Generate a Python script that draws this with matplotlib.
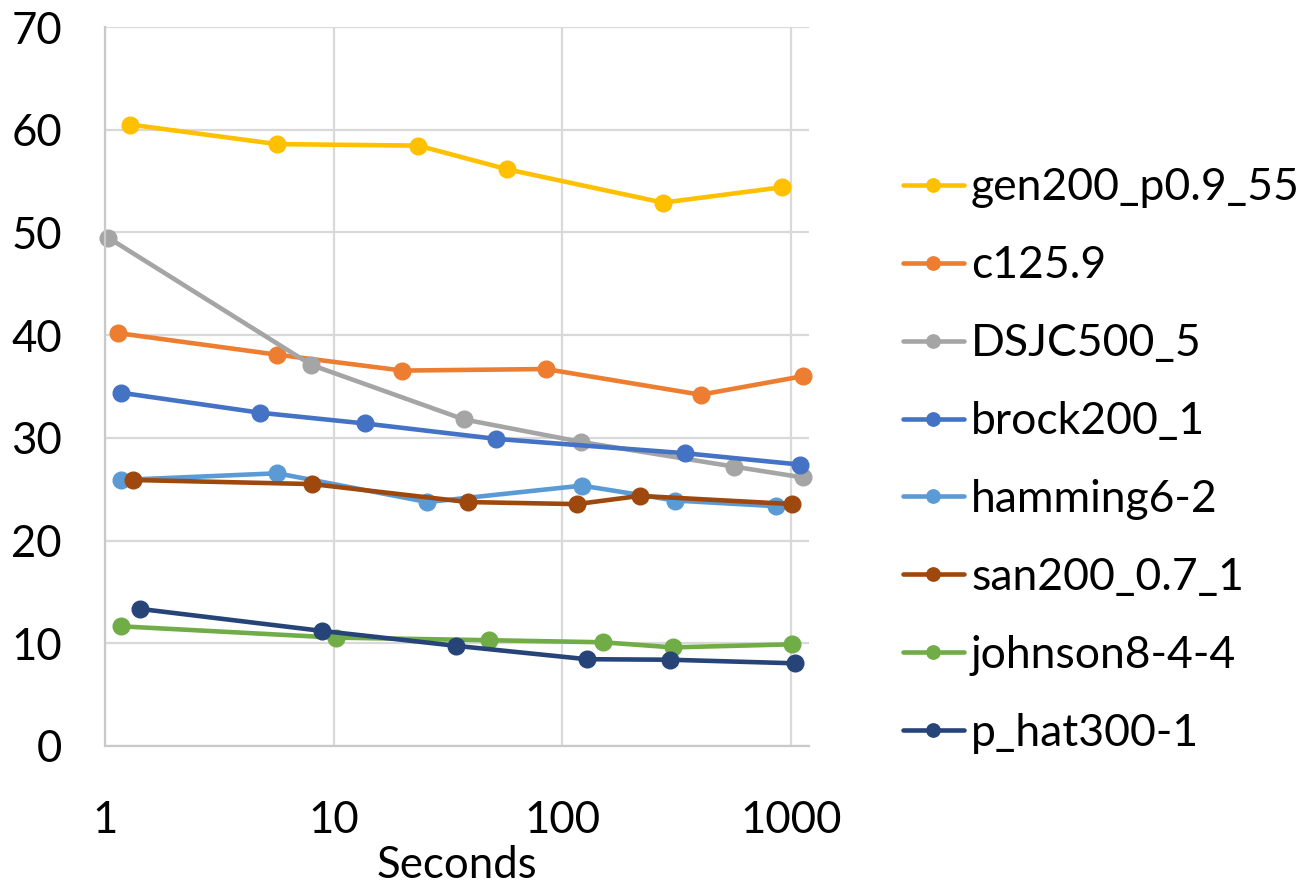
import matplotlib
matplotlib.use("Agg")
import matplotlib.pyplot as plt

plt.rcParams['font.family'] = ['Lato', 'DejaVu Sans']

names = ["gen200_p0.9_55", "c125.9", "DSJC500_5", "brock200_1",
         "hamming6-2", "san200_0.7_1", "johnson8-4-4", "p_hat300-1"]
colors = ["#FFC000", "#ED7D31", "#A5A5A5", "#4472C4",
          "#5B9BD5", "#9E480E", "#70AD47", "#264478"]

gen200_x = [1.29, 5.65, 23.5, 57.3, 276, 914]
gen200_y = [60.5, 58.6, 58.45, 56.15, 52.9, 54.4]
c125_x = [1.14, 5.65, 20.0, 84.7, 403, 1125]
c125_y = [40.2, 38.1, 36.55, 36.7, 34.2, 36.0]
dsjc_x = [1.03, 7.99, 37.1, 121, 563, 1125]
dsjc_y = [49.5, 37.1, 31.8, 29.6, 27.2, 26.15]
brock_x = [1.17, 4.75, 13.7, 51.5, 345, 1094]
brock_y = [34.4, 32.45, 31.4, 29.9, 28.5, 27.4]
hamming_x = [1.18, 5.67, 25.7, 122, 311, 857]
hamming_y = [25.9, 26.55, 23.75, 25.35, 23.9, 23.35]
san_x = [1.32, 8.07, 38.6, 116, 218, 1016]
san_y = [25.9, 25.5, 23.75, 23.55, 24.35, 23.55]
johnson_x = [1.18, 10.2, 47.8, 150, 304, 1013]
johnson_y = [11.65, 10.55, 10.3, 10.1, 9.6, 9.9]
phat_x = [1.42, 8.92, 34.4, 128, 295, 1042]
phat_y = [13.35, 11.2, 9.75, 8.45, 8.4, 8.05]

xs = [gen200_x, c125_x, dsjc_x, brock_x, hamming_x, san_x, johnson_x, phat_x]
ys = [gen200_y, c125_y, dsjc_y, brock_y, hamming_y, san_y, johnson_y, phat_y]

x_ticks = [1, 10, 100, 1000]
x_ticklabels = ["1", "10", "100", "1000"]
y_ticks = [0, 10, 20, 30, 40, 50, 60, 70]
x_label = "Seconds"

W, H = 1301, 890
fig = plt.figure(figsize=(W / 100, H / 100), dpi=100)
ax = fig.add_axes([105 / W, 1 - 746 / H, (809 - 105) / W, (746 - 27) / H])

for x, y, c, n in zip(xs, ys, colors, names):
    ax.plot(x, y, color=c, lw=3.3, marker='o', ms=12, label=n,
            solid_capstyle='round', solid_joinstyle='round', clip_on=False)

ax.set_xscale('log')
ax.set_xlim(1, 1200)
ax.set_ylim(0, 70)
ax.set_xticks(x_ticks)
ax.set_xticklabels(x_ticklabels)
ax.xaxis.set_minor_locator(matplotlib.ticker.NullLocator())
ax.set_yticks(y_ticks)
ax.grid(True, color='#D9D9D9', lw=1.6)
ax.set_axisbelow(True)
for s in ['top', 'right']:
    ax.spines[s].set_visible(False)
for s in ['left', 'bottom']:
    ax.spines[s].set_color('#C9C9C9')
    ax.spines[s].set_linewidth(1.6)
ax.tick_params(axis='both', length=0, labelsize=31.5, colors='black')
ax.tick_params(axis='y', pad=31)
ax.tick_params(axis='x', pad=39)
ax.set_xlabel(x_label, fontsize=31.5, labelpad=3)

leg = fig.legend(loc='center left', bbox_to_anchor=(903 / W, 1 - 460.5 / H),
                 frameon=False, fontsize=32, handlelength=1.37,
                 handletextpad=0.16, labelspacing=0.83, borderpad=0,
                 borderaxespad=0, markerscale=0.8)

fig.savefig("out.png", dpi=100, facecolor='white')
